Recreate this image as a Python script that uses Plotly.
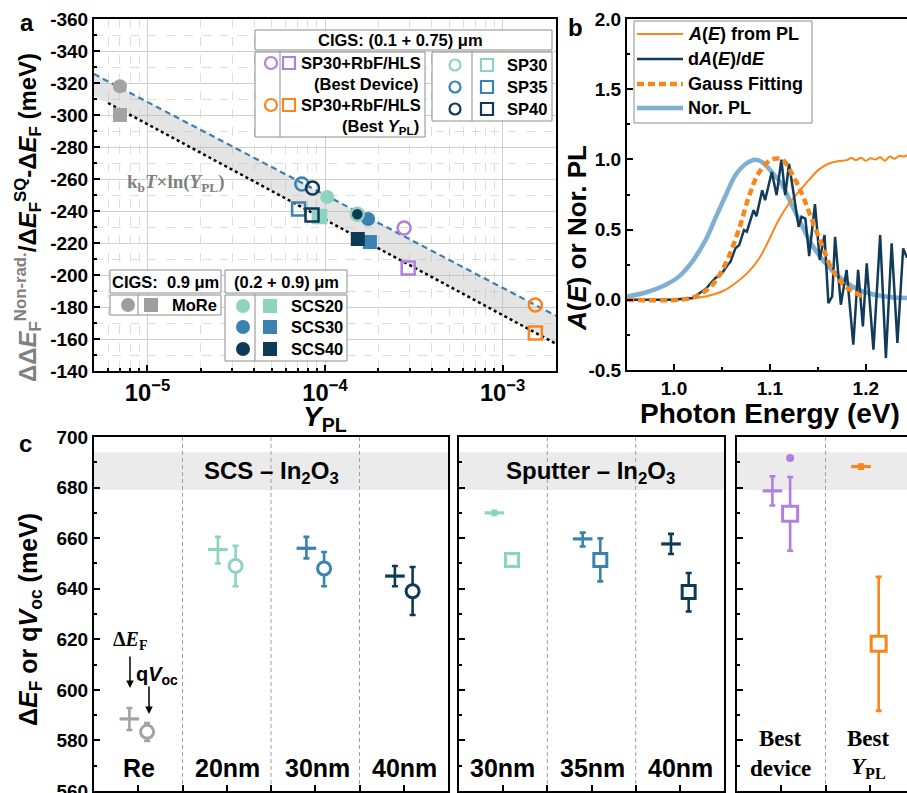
import math
import plotly.graph_objects as go

W, H = 907, 793
def px(x): return x / W
def py(y): return 1 - y / H

FONT = "Arial, Liberation Sans, sans-serif"
SERIF = "Times New Roman, Liberation Serif, serif"

C_GRAY = "#a3a3a3"
C_TEAL = "#8dd3c0"
C_BLUE = "#3a82b2"
C_DARK = "#0e3a58"
C_PURP = "#b07fe0"
C_ORNG = "#f8861a"
C_LBLU = "#7db0d2"
C_NAVY = "#123b5a"

# ---------------- Panel a data ----------------
a_names = ["MoRe", "SCS20", "SCS30", "SCS40", "SP30", "SP35", "SP40", "Best Device", "Best YPL"]
a_colors = [C_GRAY, C_TEAL, C_BLUE, C_DARK, C_TEAL, C_BLUE, C_DARK, C_PURP, C_ORNG]
a_filled = [True, True, True, True, False, False, False, False, False]
a_ypl_circ = [7.0e-6, 1.03e-4, 1.75e-4, 1.52e-4, 1.52e-4, 7.4e-5, 8.5e-5, 2.79e-4, 1.53e-3]
a_dE_circ = [-318.0, -248.8, -235.0, -238.0, -238.0, -256.9, -254.4, -229.4, -181.3]
a_ypl_sq = [7.0e-6, 9.4e-5, 1.79e-4, 1.53e-4, 9.3e-5, 7.1e-5, 8.45e-5, 2.94e-4, 1.53e-3]
a_dE_sq = [-300.0, -236.3, -220.6, -222.5, -236.5, -241.3, -237.5, -204.4, -163.8]

band_ypl = [5e-6, 2e-3]
band_upper = [-325.6, -174.5]   # kbT x ln(YPL) line (dashed)
band_lower = [-312.2, -157.0]
dotted_ypl = [6e-6, 2e-3]
dotted_dE = [-307.5, -157.0]

# ---------------- Panel b data ----------------
pl_E = [0.951, 0.9705, 0.991, 1.005, 1.019, 1.033, 1.043, 1.054, 1.064, 1.075, 1.085, 1.092,
        1.102, 1.113, 1.123, 1.134, 1.144, 1.158, 1.172, 1.186, 1.200, 1.220, 1.243]
pl_v = [0.024, 0.052, 0.106, 0.165, 0.272, 0.426, 0.579, 0.745, 0.887, 0.969, 0.998, 0.981,
        0.910, 0.816, 0.674, 0.520, 0.390, 0.260, 0.165, 0.095, 0.052, 0.024, 0.012]
gauss_E = [0.951, 1.012, 1.026, 1.040, 1.054, 1.068, 1.078, 1.089, 1.102, 1.113, 1.123, 1.134,
           1.144, 1.155, 1.165, 1.179, 1.198]
gauss_v = [0.0, 0.005, 0.035, 0.106, 0.260, 0.508, 0.733, 0.910, 1.0, 0.998, 0.898, 0.745,
           0.567, 0.378, 0.213, 0.095, 0.02]
abs_E = [0.951, 1.012, 1.033, 1.050, 1.064, 1.078, 1.089, 1.099, 1.109, 1.120, 1.130, 1.141,
         1.151, 1.161, 1.172, 1.180, 1.185, 1.190, 1.195, 1.200, 1.205, 1.210, 1.215, 1.220,
         1.225, 1.230, 1.235, 1.240, 1.243]
abs_v = [0.0, 0.005, 0.024, 0.059, 0.118, 0.201, 0.296, 0.426, 0.567, 0.686, 0.768, 0.856,
         0.927, 0.969, 0.988, 0.995, 1.01, 0.995, 1.012, 0.99, 1.008, 1.0, 1.015, 0.99,
         1.02, 1.005, 1.025, 1.02, 1.03]
dadE_E = [0.950, 0.998, 1.019, 1.033, 1.043, 1.050, 1.056, 1.059, 1.064, 1.068, 1.073, 1.076,
          1.083, 1.086, 1.092, 1.095, 1.102, 1.107, 1.112, 1.116, 1.120, 1.125, 1.130, 1.133,
          1.137, 1.141, 1.147, 1.152, 1.157, 1.161, 1.165, 1.168, 1.174, 1.180, 1.187, 1.192,
          1.197, 1.201, 1.208, 1.215, 1.221, 1.227, 1.233, 1.239, 1.243]
dadE_v = [0.0, 0.0, 0.012, 0.076, 0.154, 0.189, 0.248, 0.272, 0.366, 0.390, 0.496, 0.485,
          0.638, 0.596, 0.780, 0.709, 0.910, 0.745, 0.998, 0.745, 0.969, 0.733, 0.520, 0.591,
          0.579, 0.312, 0.681, 0.284, 0.461, -0.024, 0.024, 0.449, -0.035, 0.213, -0.319, 0.213,
          -0.189, 0.260, -0.355, 0.461, -0.414, 0.402, -0.307, 0.366, 0.30]

# ---------------- Panel c data ----------------
scs_cats = ["Re", "20nm", "30nm", "40nm"]
scs_pos = [1, 2, 3, 4]
scs_colors = [C_GRAY, C_TEAL, C_BLUE, C_DARK]
scs_dEF = [588.5, 655.5, 656.0, 645.0]
scs_dEF_up = [4.3, 5.0, 4.5, 4.0]
scs_dEF_dn = [4.4, 5.5, 4.0, 4.0]
scs_qV = [583.4, 649.0, 648.0, 639.0]
scs_qV_up = [3.5, 8.0, 6.5, 9.6]
scs_qV_dn = [3.6, 8.0, 7.0, 9.4]

sp_cats = ["30nm", "35nm", "40nm"]
sp_pos = [1, 2, 3]
sp_colors = [C_TEAL, C_BLUE, C_DARK]
sp_dEF = [670.0, 659.7, 657.7]
sp_dEF_up = [0.8, 2.5, 4.0]
sp_dEF_dn = [0.8, 3.0, 4.0]
sp_qV = [651.4, 651.4, 638.7]
sp_qV_up = [1.8, 8.5, 7.5]
sp_qV_dn = [1.8, 8.5, 7.7]

best_pos = [1, 2]
best_colors = [C_PURP, C_ORNG]
best_dEF = [678.7, 688.3]
best_dEF_up = [5.8, 0.8]
best_dEF_dn = [5.8, 0.8]
best_qV = [669.6, 618.2]
best_qV_up = [14.6, 26.5]
best_qV_dn = [14.6, 26.5]
best_outlier_pos = [1]
best_outlier_v = [691.7]

OFF = 0.1

fig = go.Figure()

# ---- panel a traces ----
fig.add_trace(go.Scatter(x=band_ypl + band_ypl[::-1], y=band_upper + band_lower[::-1],
                         fill="toself", fillcolor="rgba(185,185,185,0.38)", line=dict(width=0),
                         mode="lines", xaxis="x", yaxis="y", hoverinfo="skip"))
fig.add_trace(go.Scatter(x=band_ypl, y=band_upper, mode="lines",
                         line=dict(color="#3b7fb0", width=2.2, dash="6px,4px"), xaxis="x", yaxis="y"))
fig.add_trace(go.Scatter(x=dotted_ypl, y=dotted_dE, mode="lines",
                         line=dict(color="black", width=2.5, dash="dot"), xaxis="x", yaxis="y"))

order = [i for i in range(len(a_names)) if a_filled[i]] + [i for i in range(len(a_names)) if not a_filled[i]]
for i in order:
    c = a_colors[i]
    if a_filled[i]:
        fig.add_trace(go.Scatter(x=[a_ypl_sq[i]], y=[a_dE_sq[i]], mode="markers",
                                 marker=dict(symbol="square", size=14, color=c, line=dict(width=0)),
                                 xaxis="x", yaxis="y", name=a_names[i]))
        fig.add_trace(go.Scatter(x=[a_ypl_circ[i]], y=[a_dE_circ[i]], mode="markers",
                                 marker=dict(symbol="circle", size=14, color=c, line=dict(width=0)),
                                 xaxis="x", yaxis="y", name=a_names[i]))
for i in order:
    c = a_colors[i]
    if not a_filled[i]:
        fig.add_trace(go.Scatter(x=[a_ypl_sq[i]], y=[a_dE_sq[i]], mode="markers",
                                 marker=dict(symbol="square-open", size=13, color=c, line=dict(width=2.5, color=c)),
                                 xaxis="x", yaxis="y", name=a_names[i]))
        fig.add_trace(go.Scatter(x=[a_ypl_circ[i]], y=[a_dE_circ[i]], mode="markers",
                                 marker=dict(symbol="circle-open", size=13, color=c, line=dict(width=2.5, color=c)),
                                 xaxis="x", yaxis="y", name=a_names[i]))

# ---- panel b traces ----
fig.add_trace(go.Scatter(x=pl_E, y=pl_v, mode="lines", line=dict(color=C_LBLU, width=4.5, shape="spline"),
                         xaxis="x2", yaxis="y2", name="Nor. PL"))
fig.add_trace(go.Scatter(x=abs_E, y=abs_v, mode="lines", line=dict(color=C_ORNG, width=2, shape="spline"),
                         xaxis="x2", yaxis="y2", name="A(E) from PL"))
fig.add_trace(go.Scatter(x=dadE_E, y=dadE_v, mode="lines", line=dict(color=C_NAVY, width=2.5),
                         xaxis="x2", yaxis="y2", name="dA(E)/dE"))
fig.add_trace(go.Scatter(x=gauss_E, y=gauss_v, mode="lines",
                         line=dict(color=C_ORNG, width=4.5, dash="7px,4px", shape="spline"),
                         xaxis="x2", yaxis="y2", name="Gauss Fitting"))

# ---- panel c traces ----
def add_group(pos, dEF, dup, ddn, qV, qup, qdn, colors, xa, ya, sym, msize):
    for p, d, du, dd, q, qu, qd, c in zip(pos, dEF, dup, ddn, qV, qup, qdn, colors):
        fig.add_trace(go.Scatter(x=[p - OFF], y=[d], mode="markers", xaxis=xa, yaxis=ya,
                                 marker=dict(symbol="line-ew", size=14, color=c, line=dict(width=3.2, color=c)),
                                 error_y=dict(type="data", symmetric=False, array=[du], arrayminus=[dd],
                                              color=c, thickness=2.6, width=3)))
        fig.add_trace(go.Scatter(x=[p + OFF], y=[q], mode="markers", xaxis=xa, yaxis=ya,
                                 marker=dict(symbol=sym, size=msize, color="white", line=dict(width=3, color=c)),
                                 error_y=dict(type="data", symmetric=False, array=[qu], arrayminus=[qd],
                                              color=c, thickness=2.6, width=3)))

add_group(scs_pos, scs_dEF, scs_dEF_up, scs_dEF_dn, scs_qV, scs_qV_up, scs_qV_dn, scs_colors, "x3", "y3", "circle", 13)
add_group(sp_pos, sp_dEF, sp_dEF_up, sp_dEF_dn, sp_qV, sp_qV_up, sp_qV_dn, sp_colors, "x4", "y4", "square", 13)
add_group(best_pos, best_dEF, best_dEF_up, best_dEF_dn, best_qV, best_qV_up, best_qV_dn, best_colors, "x5", "y5", "square", 15)
fig.add_trace(go.Scatter(x=[p + OFF for p in best_outlier_pos], y=best_outlier_v, mode="markers",
                         xaxis="x5", yaxis="y5", marker=dict(symbol="circle", size=8, color=C_PURP)))

# ---------------- axes ----------------
tickfont = dict(family=FONT, size=19, color="black", weight="bold")
base = dict(showline=True, linewidth=2, linecolor="black", ticks="inside", ticklen=6, tickwidth=1.5,
            tickcolor="black", tickfont=tickfont, zeroline=False, automargin=False)

a_yticks = list(range(-360, -139, 20))
layout = dict(
    width=W, height=H, margin=dict(l=0, r=0, t=0, b=0, pad=0, autoexpand=False), showlegend=False,
    plot_bgcolor="white", paper_bgcolor="white",
    xaxis=dict(base, domain=[px(94), px(556)], type="log",
               range=[math.log10(5e-6), math.log10(2e-3)], dtick=1, exponentformat="power",
               mirror=True, anchor="y", showgrid=True, gridcolor="#cfcfcf", gridwidth=1,
               minor=dict(dtick="D1", ticks="inside", ticklen=3, tickcolor="black", showgrid=True,
                          gridcolor="#dedede", griddash="dash", gridwidth=1)),
    yaxis=dict(base, domain=[py(371), py(19)], range=[-140, -360], tickvals=a_yticks,
               ticktext=[str(v) for v in a_yticks], mirror=True, anchor="x",
               showgrid=True, gridcolor="#cfcfcf", gridwidth=1,
               minor=dict(dtick=10, ticks="inside", ticklen=3, tickcolor="black", showgrid=True,
                          gridcolor="#dedede", griddash="dash", gridwidth=1)),
    xaxis2=dict(base, domain=[px(627), 1.0], range=[0.951, 1.243], tickvals=[1.0, 1.1, 1.2],
                ticktext=["1.0", "1.1", "1.2"], mirror=True, anchor="y2", showgrid=False,
                minor=dict(dtick=0.05, ticks="inside", ticklen=3, tickcolor="black")),
    yaxis2=dict(base, domain=[py(370), py(19)], range=[-0.5, 2.0],
                tickvals=[-0.5, 0, 0.5, 1.0, 1.5, 2.0], ticktext=["-0.5", "0.0", "0.5", "1.0", "1.5", "2.0"],
                mirror=False, anchor="x2", showgrid=False,
                minor=dict(dtick=0.25, ticks="inside", ticklen=3, tickcolor="black")),
)
c_yticks = list(range(560, 701, 20))
cy = dict(base, domain=[py(791), py(437)], range=[560, 700], tickvals=c_yticks,
          ticktext=[str(v) for v in c_yticks], showgrid=False,
          minor=dict(dtick=10, ticks="inside", ticklen=3, tickcolor="black"))
cx = dict(base, showticklabels=False, showgrid=False)
layout["xaxis3"] = dict(cx, domain=[px(94), px(448)], range=[0.5, 4.5], tickvals=[1, 1.5, 2, 2.5, 3, 3.5, 4],
                        mirror=True, anchor="y3")
layout["yaxis3"] = dict(cy, mirror=True, anchor="x3", ticklabeloverflow="allow")
layout["xaxis4"] = dict(cx, domain=[px(459), px(724)], range=[0.5, 3.5], tickvals=[1, 1.5, 2, 2.5, 3],
                        mirror=True, anchor="y4")
layout["yaxis4"] = dict(cy, mirror=True, anchor="x4", showticklabels=False)
layout["xaxis5"] = dict(cx, domain=[px(737), 1.0], range=[0.5, 2.42], tickvals=[1, 1.5, 2],
                        mirror=True, anchor="y5")
layout["yaxis5"] = dict(cy, mirror=False, anchor="x5", showticklabels=False)
fig.update_layout(**layout)

# ---------------- shapes ----------------
shapes = []
for xa, ya, seps in [("x3", "y3", [1.5, 2.5, 3.5]), ("x4", "y4", [1.5, 2.5]), ("x5", "y5", [1.5])]:
    shapes.append(dict(type="rect", xref=xa + " domain", yref=ya, x0=0, x1=1, y0=679, y1=694,
                       fillcolor="#ebebeb", line=dict(width=0), layer="below"))
    for s in seps:
        shapes.append(dict(type="line", xref=xa, yref=ya + " domain", x0=s, x1=s, y0=0, y1=1,
                           line=dict(color="#a0a0a0", width=1, dash="4px,3px"), layer="below"))

def box(x0, y0, x1, y1):
    shapes.append(dict(type="rect", xref="paper", yref="paper", x0=px(x0), x1=px(x1), y0=py(y1), y1=py(y0),
                       fillcolor="white", line=dict(color="#8c8c8c", width=1), layer="above"))

def vline(x, y0, y1):
    shapes.append(dict(type="line", xref="paper", yref="paper", x0=px(x), x1=px(x), y0=py(y1), y1=py(y0),
                       line=dict(color="#8c8c8c", width=1), layer="above"))

def circ(cx_, cy_, d, color, filled, lw=2.2):
    shapes.append(dict(type="circle", xref="paper", yref="paper", x0=px(cx_ - d / 2), x1=px(cx_ + d / 2),
                       y0=py(cy_ + d / 2), y1=py(cy_ - d / 2),
                       fillcolor=color if filled else "white",
                       line=dict(color=color, width=0 if filled else lw), layer="above"))

def sq(cx_, cy_, d, color, filled, lw=2.2):
    shapes.append(dict(type="rect", xref="paper", yref="paper", x0=px(cx_ - d / 2), x1=px(cx_ + d / 2),
                       y0=py(cy_ + d / 2), y1=py(cy_ - d / 2),
                       fillcolor=color if filled else "white",
                       line=dict(color=color, width=0 if filled else lw), layer="above"))

# panel a legends
box(255, 30, 552, 50)
box(255, 52, 425, 137); vline(280, 52, 137)
box(432, 52, 552, 121); vline(472, 52, 121)
circ(271, 63, 12, C_PURP, False); sq(289, 63, 12, C_PURP, False)
circ(271, 105, 12, C_ORNG, False); sq(289, 105, 12, C_ORNG, False)
for yy, c in zip([65, 87, 109], [C_TEAL, C_BLUE, C_DARK]):
    circ(455, yy, 11, c, False); sq(487, yy, 12, c, False)
box(110, 270, 221, 293)
box(110, 295, 221, 315); vline(138, 295, 315)
circ(128, 305, 14, "#9e9e9e", True); sq(151, 305, 14, "#9e9e9e", True)
box(225, 270, 347, 293)
box(225, 295, 347, 361); vline(255, 295, 361)
for yy, c in zip([306, 327, 349], [C_TEAL, C_BLUE, C_DARK]):
    circ(243, yy, 14, c, True); sq(270, yy, 14, c, True)

# panel b legend
box(634, 21, 812, 123)
for yy, c, w, d in [(34, C_ORNG, 2, "solid"), (59, C_NAVY, 2.5, "solid"),
                    (84, C_ORNG, 4.5, "7px,4px"), (108, C_LBLU, 4.5, "solid")]:
    shapes.append(dict(type="line", xref="paper", yref="paper", x0=px(637), x1=px(683), y0=py(yy), y1=py(yy),
                       line=dict(color=c, width=w, dash=d), layer="above"))

fig.update_layout(shapes=shapes)

# ---------------- annotations ----------------
anns = []
def ann(x, y, text, size, color="black", family=FONT, bold=True, xanchor="center", yanchor="middle", angle=0):
    anns.append(dict(x=px(x), y=py(y), xref="paper", yref="paper", text=text, showarrow=False,
                     font=dict(family=family, size=size, color=color, weight="bold" if bold else "normal"),
                     xanchor=xanchor, yanchor=yanchor, textangle=angle))

ann(27, 22, "a", 24)
ann(575, 28, "b", 24)
ann(25, 443, "c", 24)

# panel a titles
ann(28, 218, '<span style="color:#808080">ΔΔ<i>E</i><sub>F</sub><sup>Non-rad.</sup></span>/Δ<i>E</i><sub>F</sub><sup>SQ</sup>-Δ<i>E</i><sub>F</sub> (meV)',
    24, angle=-90)
ann(325, 418, "<i>Y</i><sub>PL</sub>", 28)
ann(176, 183, "k<sub>b</sub><i>T</i>×ln(<i>Y</i><sub>PL</sub>)", 19, color="#808080", family=SERIF)

# panel a legend text
LS = 16.5
ann(400, 40, "CIGS: (0.1 + 0.75) μm", LS)
ann(423, 63, "SP30+RbF/HLS", LS, xanchor="right")
ann(421, 84, "(Best Device)", LS, xanchor="right")
ann(423, 105, "SP30+RbF/HLS", LS, xanchor="right")
ann(421, 127, "(Best <i>Y</i><sub>PL</sub>)", LS, xanchor="right")
for yy, t in zip([65, 87, 109], ["SP30", "SP35", "SP40"]):
    ann(549, yy, t, LS, xanchor="right")
ann(165, 282, "CIGS:  0.9 μm", LS)
ann(219, 305, "MoRe", LS, xanchor="right")
ann(286, 282, "(0.2 + 0.9) μm", LS)
for yy, t in zip([306, 327, 349], ["SCS20", "SCS30", "SCS40"]):
    ann(345, yy, t, LS, xanchor="right")

# panel b titles / legend text
ann(577, 238, "<i>A</i>(<i>E</i>) or Nor. PL", 26, angle=-90)
ann(770, 413, "Photon Energy (eV)", 28)
for yy, t in zip([34, 59, 84, 108], ["<i>A</i>(<i>E</i>) from PL", "d<i>A</i>(<i>E</i>)/d<i>E</i>",
                                     "Gauss Fitting", "Nor. PL"]):
    ann(686, yy, t, 18, xanchor="left")

# panel c texts
ann(30, 620, "Δ<i>E</i><sub>F</sub> or q<i>V</i><sub>oc</sub> (meV)", 25, angle=-90)
ann(271, 472, "SCS – In<sub>2</sub>O<sub>3</sub>", 24)
ann(590, 472, "Sputter – In<sub>2</sub>O<sub>3</sub>", 24)
for xx, t in zip([139, 227, 317, 404], scs_cats):
    ann(xx, 768, t, 25)
for xx, t in zip([503, 592, 680], sp_cats):
    ann(xx, 768, t, 25)
ann(780, 738, "Best", 23, family=SERIF)
ann(780, 768, "device", 23, family=SERIF)
ann(868, 738, "Best", 23, family=SERIF)
ann(868, 768, "<i>Y</i><sub>PL</sub>", 23, family=SERIF)
ann(130, 640, "Δ<i>E</i><sub>F</sub>", 20, family=SERIF)
ann(157, 675, "q<i>V</i><sub>oc</sub>", 20)

for hx, hy, ay in [(130, 688, -33), (149, 714, -29)]:
    anns.append(dict(x=px(hx), y=py(hy), xref="paper", yref="paper", text="", showarrow=True,
                     ax=0, ay=ay, arrowhead=2, arrowsize=1, arrowwidth=1.5, arrowcolor="black"))

fig.update_layout(annotations=anns)

fig.write_html("out.html")
